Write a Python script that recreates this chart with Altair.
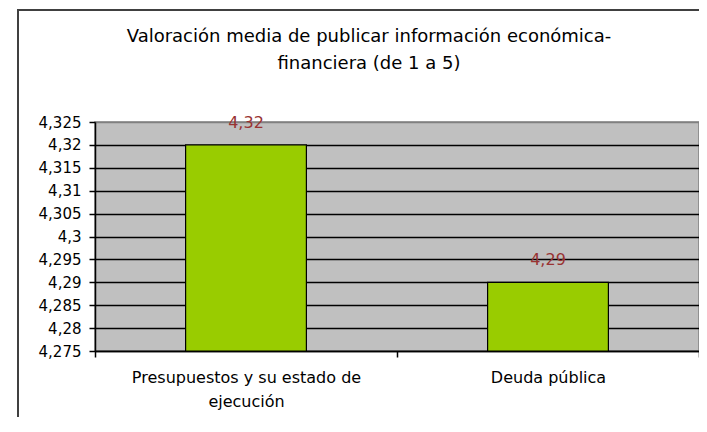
import altair as alt
import pandas as pd

# ---- data ----
categories = ["Presupuestos y su estado de ejecución", "Deuda pública"]
values = [4.32, 4.29]
value_labels = ["4,32", "4,29"]
y_ticks = [4.275, 4.28, 4.285, 4.29, 4.295, 4.3, 4.305, 4.31, 4.315, 4.32, 4.325]
title_lines = ["Valoración media de publicar información económica-",
               "financiera (de 1 a 5)"]

df = pd.DataFrame({"cat": categories, "val": values, "lab": value_labels})

FONT = "DejaVu Sans"

x_enc = alt.X(
    "cat:N", sort=categories, title=None,
    scale=alt.Scale(paddingInner=0, paddingOuter=0),
    axis=alt.Axis(
        labelAngle=0, labelFont=FONT, labelFontSize=16, labelColor="black",
        labelLineHeight=24, labelPadding=12, labelLimit=400,
        tickBand="extent", tickSize=6, tickColor="black", tickWidth=1.5,
        domainColor="black", domainWidth=1.5, grid=False,
        labelExpr="datum.value == 'Presupuestos y su estado de ejecución' ? ['Presupuestos y su estado de', 'ejecución'] : datum.label",
    ),
)
y_scale = alt.Scale(domain=[y_ticks[0], y_ticks[-1]], zero=False, nice=False)

bars = alt.Chart(df).mark_bar(
    color="#99CC00", stroke="black", strokeWidth=1.2,
    width=alt.RelativeBandSize(0.4),
).encode(
    x=x_enc,
    y=alt.Y("val:Q", scale=y_scale, title=None,
            axis=alt.Axis(values=y_ticks, tickCount=len(y_ticks),
                          labelOverlap=False,
                          labelFont=FONT, labelFontSize=15,
                          labelColor="black", labelPadding=8,
                          labelExpr="replace(format(datum.value, '.3~f'), '.', ',')",
                          tickSize=6, tickColor="black", tickWidth=1.5,
                          domainColor="black", domainWidth=1.5,
                          grid=True,
                          gridColor=alt.condition("datum.value > 4.3249",
                                                  alt.value("#808080"),
                                                  alt.value("black")),
                          gridWidth=1.5)),
    y2=alt.datum(y_ticks[0]),
)

texts = alt.Chart(df).mark_text(
    font=FONT, fontSize=16, color="#993333", baseline="middle", dy=-22,
).encode(
    x=alt.X("cat:N", sort=categories),
    y=alt.Y("val:Q", scale=y_scale),
    text="lab:N",
)

one = pd.DataFrame({"a": [0]})

title = alt.Chart(one).mark_text(
    text=title_lines, font=FONT, fontSize=18, color="black",
    lineHeight=27, align="center", baseline="middle",
).encode(
    x=alt.value(274), y=alt.value(-85),
)

border_left = alt.Chart(one).mark_rule(color="#404040", strokeWidth=2).encode(
    x=alt.value(-77), y=alt.value(-112), y2=alt.value(420),
)
border_top = alt.Chart(one).mark_rule(color="#404040", strokeWidth=2).encode(
    x=alt.value(-78), x2=alt.value(604), y=alt.value(-112),
)

chart = alt.layer(bars, texts, title, border_left, border_top).properties(
    width=604, height=229,
    autosize=alt.AutoSizeParams(type="none"),
    padding={"left": 87, "top": 114, "right": 0, "bottom": 66},
).configure_view(
    fill="#C0C0C0", stroke="#808080", strokeWidth=1.5,
)

chart.save("out.html", embed_options={"renderer": "svg", "actions": False})
